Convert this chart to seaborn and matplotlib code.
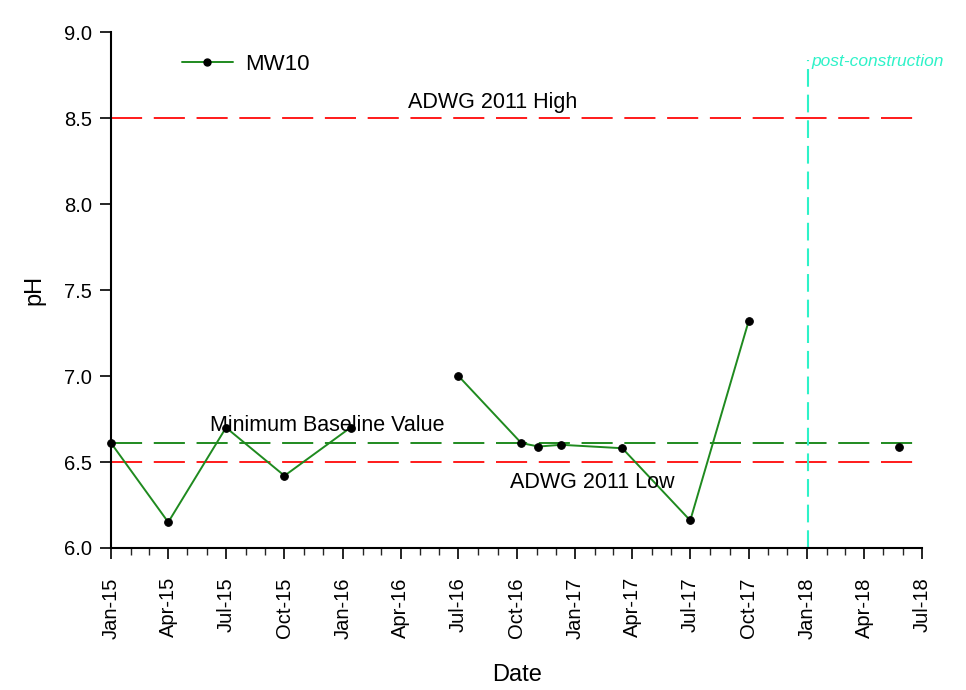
import numpy as np
import pandas as pd
import matplotlib
matplotlib.use("Agg")
import matplotlib.pyplot as plt
import matplotlib.dates as mdates
from matplotlib.lines import Line2D
import seaborn as sns

# MW10 pH monitoring record; segment ids break the line where sampling paused
sample_dates = ["2015-01-01", "2015-04-01", "2015-07-01", "2015-10-01", "2016-01-13",
                "2016-07-01", "2016-10-08", "2016-11-04", "2016-12-10", "2017-03-16",
                "2017-07-01", "2017-10-01", "2018-05-25"]
ph_values = [6.61, 6.15, 6.70, 6.42, 6.70,
             7.00, 6.61, 6.59, 6.60, 6.58,
             6.16, 7.32, 6.59]
segments = [1, 1, 1, 1, 1, 2, 2, 2, 2, 2, 2, 2, 3]

adwg_high = 8.5
adwg_low = 6.5
min_baseline = 6.61
post_construction = "2018-01-03"
post_top = 8.84

df = pd.DataFrame({"date": pd.to_datetime(sample_dates), "pH": ph_values, "segment": segments})

sns.set_style("ticks")
plt.rcParams["font.family"] = ["Liberation Sans", "DejaVu Sans"]
plt.rcParams["text.color"] = "black"
plt.rcParams["axes.labelcolor"] = "black"

fig = plt.figure(figsize=(9.66, 6.9), dpi=100)
ax = fig.add_axes([0.115, 0.2058, 0.8395, 0.7478])

green = "#1f8a1f"
red = "#ff1a1a"
cyan = "#2ef2c8"

x0 = pd.Timestamp("2015-01-01")
x1 = pd.Timestamp("2018-06-16")

# guideline levels (long dashes, ~29 px on / 11 px off)
ref_dash = (16.0, 6.0)
for level, col in ((adwg_high, red), (adwg_low, red), (min_baseline, green)):
    ax.plot([x0, x1], [level, level], color=col, lw=1.4, dashes=ref_dash, zorder=1)
ax.plot([pd.Timestamp(post_construction)] * 2, [6.0, post_top], color=cyan, lw=1.5,
        dashes=(8.5, 3.8), zorder=1)

sns.lineplot(data=df, x="date", y="pH", units="segment", estimator=None, ax=ax,
             color=green, lw=1.4, marker="o", markersize=5.5,
             markerfacecolor="black", markeredgecolor="black", legend=False,
             zorder=3, clip_on=False)

ax.text(pd.Timestamp("2016-08-24"), 8.59, "ADWG 2011 High", ha="center", va="center", fontsize=15.5)
ax.text(pd.Timestamp("2015-12-07"), 6.715, "Minimum Baseline Value", ha="center", va="center", fontsize=15.5)
ax.text(pd.Timestamp("2017-01-28"), 6.378, "ADWG 2011 Low", ha="center", va="center", fontsize=15.5)
ax.text(pd.Timestamp("2018-01-08"), 8.83, "post-construction", ha="left", va="center",
        fontsize=12.5, style="italic", color=cyan)

handle = Line2D([], [], color=green, lw=1.4, marker="o", markersize=5,
                markerfacecolor="black", markeredgecolor="black")
ax.legend([handle], ["MW10"], loc="center left", bbox_to_anchor=(0.087, 0.937),
          frameon=False, fontsize=16, handlelength=2.3, handletextpad=0.55,
          borderaxespad=0, borderpad=0)

ax.set_xlim(x0, pd.Timestamp("2018-07-01"))
ax.set_ylim(6.0, 9.0)
ax.set_yticks(np.arange(6.0, 9.01, 0.5))
ax.yaxis.set_major_formatter(matplotlib.ticker.FormatStrFormatter("%.1f"))
ax.xaxis.set_major_locator(mdates.MonthLocator(bymonth=[1, 4, 7, 10]))
ax.xaxis.set_minor_locator(mdates.MonthLocator())
ax.xaxis.set_major_formatter(mdates.DateFormatter("%b-%y"))
plt.setp(ax.get_xticklabels(), rotation=90)

ax.tick_params(axis="both", which="major", direction="out", length=8, width=1.2,
               labelsize=14.5, colors="black")
ax.tick_params(axis="x", which="minor", direction="out", length=5, width=1.0)
ax.tick_params(axis="x", which="major", pad=13)
ax.tick_params(axis="y", which="major", pad=6)

sns.despine(ax=ax)
for side in ("left", "bottom"):
    ax.spines[side].set_linewidth(1.5)
    ax.spines[side].set_color("black")

ax.set_xlabel("Date", fontsize=17, labelpad=18)
ax.set_ylabel("pH", fontsize=17, labelpad=13)

fig.savefig("out.png", dpi=100, facecolor="white")
